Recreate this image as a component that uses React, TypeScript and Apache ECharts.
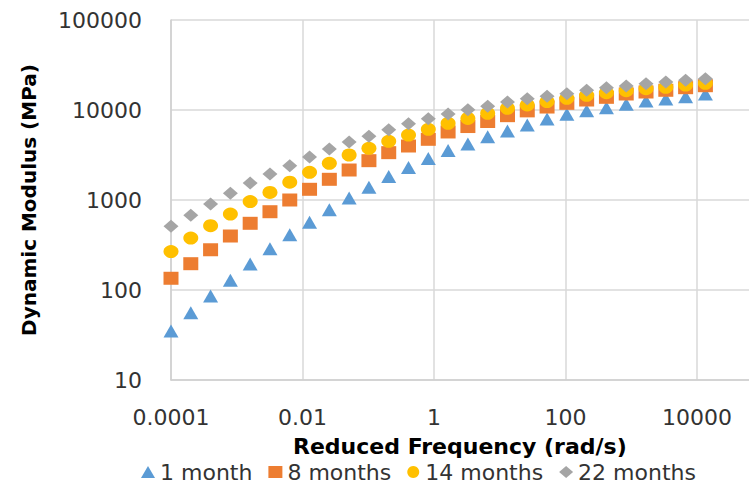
import React, { useEffect, useRef } from "react";
import * as echarts from "echarts";

const FONT = "DejaVu Sans";

// Reduced frequency (rad/s), shared by every series
const frequencies = [
  0.0001, 0.0002, 0.0004, 0.0008, 0.0016, 0.0032, 0.0064, 0.0128, 0.0256, 0.0512,
  0.1024, 0.2048, 0.4096, 0.8192, 1.6384, 3.2768, 6.5536, 13.1072, 26.2144, 52.4288,
  104.8576, 209.7152, 419.4304, 838.8608, 1677.7216, 3355.4432, 6710.8864, 13421.7728,
];

const seriesNames = ["1 month", "8 months", "14 months", "22 months"];

// Dynamic modulus (MPa)
const month1 = [
  35, 56, 86, 128, 194, 288, 411, 565, 780, 1050, 1390, 1820, 2290, 2900, 3550, 4190,
  5050, 5840, 6810, 7940, 8960, 9820, 10610, 11570, 12590, 13250, 14050, 15060,
];
const months8 = [
  135, 196, 280, 398, 551, 741, 1000, 1315, 1698, 2154, 2735, 3357, 3981, 4725, 5700, 6550,
  7450, 8650, 9780, 10790, 11860, 12910, 13830, 15060, 15850, 16560, 17700, 18620,
];
const months14 = [
  267, 378, 519, 698, 960, 1215, 1575, 2032, 2560, 3162, 3751, 4487, 5270, 6106, 7110, 8070,
  9180, 10450, 11370, 12390, 13490, 14560, 15550, 16400, 17250, 17850, 18950, 19770,
];
const months22 = [
  510, 676, 903, 1190, 1540, 1945, 2405, 3005, 3690, 4410, 5100, 6040, 7050, 8010, 9030, 10070,
  10990, 12270, 13360, 14190, 15160, 16560, 17700, 18490, 19600, 20470, 21380, 22280,
];

const xTickLabels = ["0.0001", "0.01", "1", "100", "10000"];
const yTickLabels = ["10", "100", "1000", "10000", "100000"];

const seriesValues = [month1, months8, months14, months22];
const seriesSymbols = ["triangle", "rect", "circle", "diamond"];
const seriesColors = ["#5B9BD5", "#ED7D31", "#FFC000", "#A5A5A5"];

const fmt = (allowed: string[]) => (v: number) => {
  const s = String(Number(Number(v).toPrecision(6)));
  return allowed.includes(s) ? s : "";
};

export default function App() {
  const ref = useRef<HTMLDivElement>(null);

  useEffect(() => {
    if (!ref.current) return;
    const chart = echarts.init(ref.current, null, { renderer: "svg" });
    const option: any = {
      animation: false,
      backgroundColor: "#ffffff",
      textStyle: { fontFamily: FONT },
      grid: {
        left: 171,
        top: 20,
        width: 591.75,
        height: 360,
        containLabel: false,
        outerBoundsMode: "none",
      },
      xAxis: {
        type: "log",
        logBase: 100,
        min: 0.0001,
        max: 100000,
        name: "Reduced Frequency (rad/s)",
        nameLocation: "middle",
        nameGap: 55,
        nameTextStyle: {
          fontFamily: FONT,
          fontSize: 22,
          fontWeight: "bold",
          color: "#000000",
          padding: [0, 14, 0, 0],
        },
        axisLine: { show: true, onZero: false, lineStyle: { color: "#CFCFCF", width: 1.5 } },
        axisTick: { show: false },
        minorTick: { show: false },
        minorSplitLine: { show: false },
        axisLabel: {
          margin: 26,
          fontFamily: FONT,
          fontSize: 22,
          color: "#333333",
          showMinLabel: true,
          showMaxLabel: false,
          formatter: fmt(xTickLabels),
        },
        splitLine: { show: true, lineStyle: { color: "#D9D9D9", width: 1.5 } },
      },
      yAxis: {
        type: "log",
        logBase: 10,
        min: 10,
        max: 100000,
        name: "Dynamic Modulus (MPa)",
        nameLocation: "middle",
        nameGap: 132,
        nameTextStyle: {
          fontFamily: FONT,
          fontSize: 20,
          fontWeight: "bold",
          color: "#000000",
        },
        axisLine: { show: true, onZero: false, lineStyle: { color: "#CFCFCF", width: 1.5 } },
        axisTick: { show: false },
        minorTick: { show: false },
        minorSplitLine: { show: false },
        axisLabel: {
          margin: 29,
          fontFamily: FONT,
          fontSize: 22,
          color: "#333333",
          formatter: fmt(yTickLabels),
        },
        splitLine: { show: true, lineStyle: { color: "#D9D9D9", width: 1.5 } },
      },
      legend: {
        left: 136,
        top: 456,
        itemWidth: 14,
        itemHeight: 12,
        itemGap: 16,
        data: seriesNames,
        textStyle: { fontFamily: FONT, fontSize: 22, color: "#333333" },
      },
      series: seriesNames.map((name, s) => ({
        name,
        type: "scatter",
        symbol: seriesSymbols[s],
        symbolSize: [15, 13],
        itemStyle: { color: seriesColors[s], opacity: 1 },
        data: frequencies.map((f, i) => [f, seriesValues[s][i]]),
      })),
    };
    chart.setOption(option);
    return () => chart.dispose();
  }, []);

  return (
    <div
      ref={ref}
      style={{ position: "absolute", left: 0, top: 0, width: 749, height: 489, overflow: "hidden" }}
    />
  );
}
